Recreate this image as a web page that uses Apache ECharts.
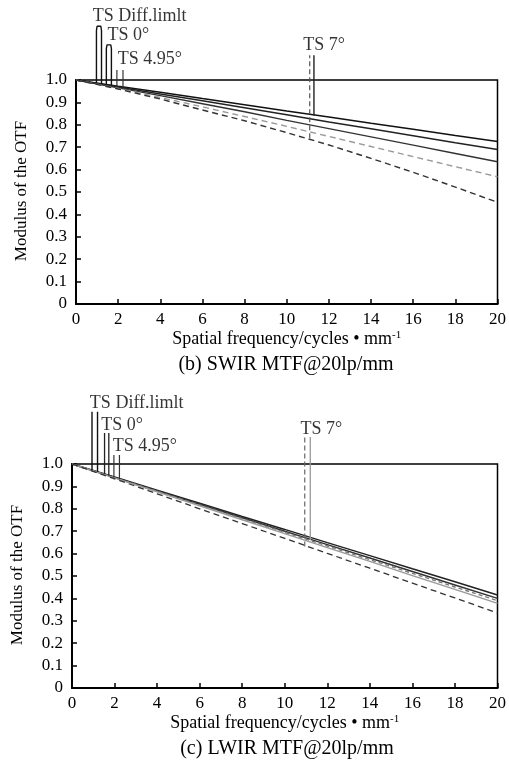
<!DOCTYPE html>
<html>
<head>
<meta charset="utf-8">
<script src="https://cdn.jsdelivr.net/npm/echarts@6/dist/echarts.min.js"></script>
<style>html,body{margin:0;padding:0;background:#fff;}#c{width:509px;height:761px;}</style>
</head>
<body>
<div id="c"></div>
<script>
// ---- data ----
var freq = [0, 2, 4, 6, 8, 10, 12, 14, 16, 18, 20];
var xTicks = [0, 2, 4, 6, 8, 10, 12, 14, 16, 18, 20];
var yTicks = [0, 0.1, 0.2, 0.3, 0.4, 0.5, 0.6, 0.7, 0.8, 0.9, 1.0];

// (b) SWIR
var swirDiff = [1, 0.972, 0.945, 0.917, 0.89, 0.862, 0.835, 0.807, 0.78, 0.752, 0.725];
var swir0    = [1, 0.969, 0.938, 0.907, 0.876, 0.845, 0.813, 0.782, 0.751, 0.72, 0.69];
var swir495  = [1, 0.965, 0.93, 0.894, 0.858, 0.82, 0.783, 0.746, 0.709, 0.672, 0.635];
var swir7S   = [1, 0.962, 0.922, 0.88, 0.837, 0.793, 0.748, 0.703, 0.658, 0.613, 0.568];
var swir7T   = [1, 0.96, 0.915, 0.866, 0.818, 0.765, 0.71, 0.65, 0.588, 0.522, 0.454];

// (c) LWIR
var lwirDiff = [1, 0.942, 0.883, 0.825, 0.766, 0.708, 0.649, 0.591, 0.532, 0.474, 0.415];
var lwir0    = [1, 0.94, 0.88, 0.82, 0.76, 0.70, 0.64, 0.58, 0.52, 0.46, 0.40];
var lwir495  = [1, 0.939, 0.878, 0.817, 0.756, 0.695, 0.634, 0.573, 0.512, 0.451, 0.39];
var lwir7S   = [1, 0.938, 0.876, 0.813, 0.751, 0.689, 0.627, 0.565, 0.502, 0.44, 0.378];
var lwir7T   = [1, 0.934, 0.867, 0.8, 0.734, 0.668, 0.601, 0.535, 0.468, 0.402, 0.335];

// legend leader lines (x in cycles/mm, y in modulus)
var swirMarkDiff = [[0.97,0.986],[0.97,1.22],[1.0,1.24],[1.09,1.247],[1.18,1.24],[1.21,1.22],[1.21,0.983]];
var swirMark0    = [[1.44,0.98],[1.44,1.14],[1.47,1.157],[1.56,1.163],[1.65,1.157],[1.68,1.14],[1.68,0.977]];
var swirMark495a = [[1.94,0.973],[1.94,1.045]];
var swirMark495b = [[2.23,0.969],[2.23,1.045]];
var swirMark7T   = [[11.09,0.74],[11.09,1.11]];
var swirMark7S   = [[11.29,0.842],[11.29,1.11]];

var lwirMarkDiffA = [[0.94,0.972],[0.94,1.233]];
var lwirMarkDiffB = [[1.2,0.965],[1.2,1.233]];
var lwirMark0a    = [[1.53,0.955],[1.53,1.138]];
var lwirMark0b    = [[1.73,0.948],[1.73,1.138]];
var lwirMark495a  = [[1.97,0.94],[1.97,1.04]];
var lwirMark495b  = [[2.23,0.932],[2.23,1.04]];
var lwirMark7T    = [[10.94,0.632],[10.94,1.12]];
var lwirMark7S    = [[11.2,0.66],[11.2,1.12]];

var swirLabels = [["TS Diff.limlt", 0.8, 1.286], ["TS 0°", 1.5, 1.2], ["TS 4.95°", 1.98, 1.094], ["TS 7°", 10.78, 1.156]];
var lwirLabels = [["TS Diff.limlt", 0.84, 1.272], ["TS 0°", 1.38, 1.174], ["TS 4.95°", 1.91, 1.077], ["TS 7°", 10.74, 1.155]];

// ---- build ----
var FONT = 'Liberation Serif';
function pairs(xs, ys) { return xs.map(function (x, i) { return [x, ys[i]]; }); }

function curve(gi, name, ys, color, type, width) {
  return { type: 'line', name: name, xAxisIndex: gi, yAxisIndex: gi, data: pairs(freq, ys),
    showSymbol: false, symbol: 'none', smooth: false, silent: true,
    lineStyle: { color: color, width: width || 1.4, type: type || 'solid' }, z: 3 };
}
function mark(gi, data, color, type, width) {
  return { type: 'line', xAxisIndex: gi, yAxisIndex: gi, data: data, showSymbol: false, symbol: 'none',
    clip: false, silent: true, lineStyle: { color: color, width: width || 1.4, type: type || 'solid' }, z: 4 };
}
function labels(gi, arr) {
  return { type: 'scatter', xAxisIndex: gi, yAxisIndex: gi, clip: false, silent: true, symbolSize: 0,
    data: arr.map(function (a) { return { value: [a[1], a[2]], name: a[0] }; }),
    label: { show: true, position: 'right', distance: 0, formatter: '{b}', color: '#000', fontSize: 18, fontFamily: FONT }, z: 5 };
}

function xAx(gi) {
  return { gridIndex: gi, type: 'value', min: 0, max: 20, interval: 2,
    axisLine: { show: true, lineStyle: { color: '#000', width: 2 } },
    axisTick: { show: true, inside: true, length: 5, lineStyle: { color: '#000', width: 1.5 } },
    axisLabel: { color: '#000', fontSize: 17, fontFamily: FONT, margin: 7 },
    splitLine: { show: false },
    name: 'Spatial frequency/cycles • mm{s|-1}', nameLocation: 'middle', nameGap: 26,
    nameTextStyle: { color: '#000', fontSize: 18, fontFamily: FONT,
      rich: { s: { fontSize: 11, fontFamily: FONT, color: '#000', verticalAlign: 'top' } } } };
}
function yAx(gi) {
  return { gridIndex: gi, type: 'value', min: 0, max: 1, interval: 0.1,
    axisLine: { show: true, lineStyle: { color: '#000', width: 2 } },
    axisTick: { show: true, inside: true, length: 5, lineStyle: { color: '#000', width: 1.5 } },
    axisLabel: { color: '#000', fontSize: 17, fontFamily: FONT, margin: 9,
      formatter: function (v) { return v === 0 ? '0' : v.toFixed(1); } },
    splitLine: { show: false },
    name: 'Modulus of the OTF', nameLocation: 'middle', nameRotate: 90, nameGap: 46,
    nameTextStyle: { color: '#000', fontSize: 17, fontFamily: FONT, padding: [0, 0, 0, 2] } };
}

var chart = echarts.init(document.getElementById('c'), null, { renderer: 'canvas' });
chart.setOption({
  backgroundColor: '#fff',
  animation: false,
  grid: [
    { left: 76, top: 80, width: 425, height: 224, show: true, borderColor: '#000', borderWidth: 1.5, backgroundColor: 'transparent' },
    { left: 72, top: 464, width: 430, height: 224, show: true, borderColor: '#000', borderWidth: 1.5, backgroundColor: 'transparent' }
  ],
  xAxis: [xAx(0), xAx(1)],
  yAxis: [yAx(0), yAx(1)],
  graphic: [
    { type: 'text', x: 286, y: 365, style: { text: '(b) SWIR MTF@20lp/mm', font: '20px "Liberation Serif"', fill: '#000', textAlign: 'center', textVerticalAlign: 'middle' } },
    { type: 'text', x: 287, y: 749, style: { text: '(c) LWIR MTF@20lp/mm', font: '20px "Liberation Serif"', fill: '#000', textAlign: 'center', textVerticalAlign: 'middle' } }
  ],
  series: [
    curve(0, 'TS Diff.limit', swirDiff, '#111', 'solid', 1.5),
    curve(0, 'TS 0°', swir0, '#222', 'solid', 1.5),
    curve(0, 'TS 4.95°', swir495, '#333', 'solid', 1.4),
    curve(0, 'TS 7° S', swir7S, '#9a9a9a', [6, 4], 1.4),
    curve(0, 'TS 7° T', swir7T, '#333', [6, 4], 1.4),
    mark(0, swirMarkDiff, '#111', 'solid', 1.4),
    mark(0, swirMark0, '#111', 'solid', 1.4),
    mark(0, swirMark495a, '#333', 'solid', 1.2),
    mark(0, swirMark495b, '#333', 'solid', 1.2),
    mark(0, swirMark7T, '#555', [5, 3], 1.2),
    mark(0, swirMark7S, '#222', 'solid', 1.4),
    labels(0, swirLabels),

    curve(1, 'TS Diff.limit', lwirDiff, '#222', 'solid', 1.5),
    curve(1, 'TS 0°', lwir0, '#333', 'solid', 1.5),
    curve(1, 'TS 4.95°', lwir495, '#777', [4, 3], 1.4),
    curve(1, 'TS 7° S', lwir7S, '#999', 'solid', 1.4),
    curve(1, 'TS 7° T', lwir7T, '#333', [6, 4], 1.3),
    mark(1, lwirMarkDiffA, '#111', 'solid', 1.4),
    mark(1, lwirMarkDiffB, '#111', 'solid', 1.4),
    mark(1, lwirMark0a, '#222', 'solid', 1.3),
    mark(1, lwirMark0b, '#222', 'solid', 1.3),
    mark(1, lwirMark495a, '#333', 'solid', 1.2),
    mark(1, lwirMark495b, '#333', 'solid', 1.2),
    mark(1, lwirMark7T, '#666', [5, 3], 1.2),
    mark(1, lwirMark7S, '#999', 'solid', 1.3),
    labels(1, lwirLabels)
  ]
});
</script>
</body>
</html>
